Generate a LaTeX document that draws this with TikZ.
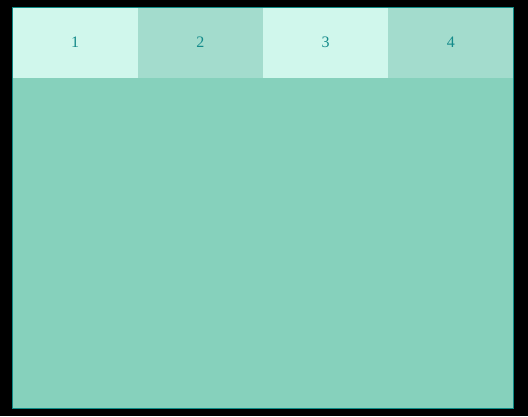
\documentclass[tikz,border=0pt]{standalone}
\usepackage{fontspec}
\setmainfont{Liberation Serif}
\usepackage{tikz}
\usetikzlibrary{positioning}

\definecolor{tabLight}{HTML}{D0F7EC}
\definecolor{tabDark}{HTML}{A3DCCD}
\definecolor{panelFill}{HTML}{86D1BC}
\definecolor{edgeTeal}{HTML}{0E8A85}
\definecolor{labelTeal}{HTML}{138A8A}

\begin{document}
\begin{tikzpicture}[x=1pt, y=-1pt,
    tab/.style={minimum width=125.25pt, minimum height=70pt, inner sep=0pt,
        outer sep=0pt, anchor=north west, text=labelTeal,
        font=\fontsize{16}{19}\selectfont}]
    % Background
    \fill[black] (0, 0) rectangle (528, 416);
    \useasboundingbox (0, 0) rectangle (528, 416);

    % Panel
    \fill[panelFill] (12.5, 7.5) rectangle (513.5, 408.5);

    % Tabs
    \node[tab, fill=tabLight] (tab1) at (12.5, 7.5) {1};
    \node[tab, fill=tabDark, right=0pt of tab1] (tab2) {2};
    \node[tab, fill=tabLight, right=0pt of tab2] (tab3) {3};
    \node[tab, fill=tabDark, right=0pt of tab3] (tab4) {4};

    % Border
    \draw[edgeTeal, line width=1pt] (12.5, 7.5) rectangle (513.5, 408.5);
\end{tikzpicture}
\end{document}
